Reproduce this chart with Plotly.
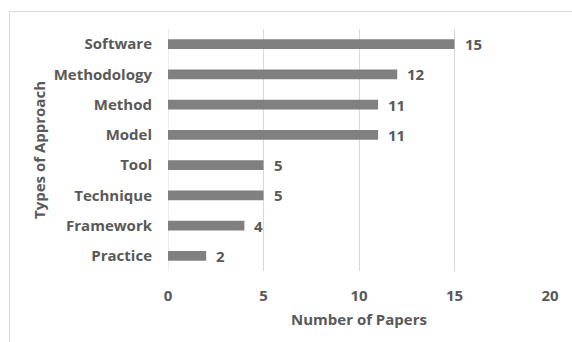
import plotly.graph_objects as go

categories = ["Software", "Methodology", "Method", "Model", "Tool", "Technique", "Framework", "Practice"]
values = [15, 12, 11, 11, 5, 5, 4, 2]
x_ticks = [0, 5, 10, 15, 20]

W, H = 572, 342
L, R, T, B = 168, 22, 29, 71
pw, ph = W - L - R, H - T - B

font_color = "#595959"
ff = "Open Sans"
fs = 15

fig = go.Figure()
fig.add_trace(go.Bar(
    y=categories, x=values, orientation="h",
    marker=dict(color="#808080", line=dict(width=0)),
    hoverinfo="skip",
))

for c, v in zip(categories, values):
    fig.add_annotation(x=v, y=c, text=str(v), showarrow=False, xanchor="left",
                       xshift=8, yshift=0,
                       font=dict(family=ff, size=fs, color=font_color, weight="bold"))

def px_x(p):
    return (p - L) / pw

def px_y(p):
    return (H - B - p) / ph

# chart border: only top and left edges visible within the window
fig.add_shape(type="line", xref="paper", yref="paper",
              x0=px_x(9.5), x1=px_x(572), y0=px_y(11.5), y1=px_y(11.5),
              line=dict(color="#d9d9d9", width=1), layer="below")
fig.add_shape(type="line", xref="paper", yref="paper",
              x0=px_x(9.5), x1=px_x(9.5), y0=px_y(11.5), y1=px_y(345),
              line=dict(color="#d9d9d9", width=1), layer="below")

fig.update_layout(
    width=W, height=H,
    margin=dict(l=L, r=R, t=T, b=B, pad=0),
    paper_bgcolor="white", plot_bgcolor="white",
    bargap=0.67,
    showlegend=False,
    font=dict(family=ff, color=font_color),
    xaxis=dict(
        range=[0, 20], tickvals=x_ticks, ticktext=[str(t) for t in x_ticks],
        showgrid=True, gridcolor="#d9d9d9", gridwidth=1,
        zeroline=False, showline=False, ticks="",
        ticklabelstandoff=14,
        tickfont=dict(family=ff, size=fs, color=font_color, weight="bold"),
        title=dict(text="Number of Papers", standoff=10,
                   font=dict(family=ff, size=fs, color=font_color, weight="bold")),
        fixedrange=True,
    ),
    yaxis=dict(
        categoryorder="array", categoryarray=categories[::-1],
        showgrid=False, zeroline=False, showline=False, ticks="",
        ticklabelstandoff=15,
        tickfont=dict(family=ff, size=fs, color=font_color, weight="bold"),
        title=dict(text="Types of Approach", standoff=4,
                   font=dict(family=ff, size=fs, color=font_color, weight="bold")),
        fixedrange=True,
    ),
)
fig.add_shape(type="line", xref="x", yref="paper", x0=0, x1=0, y0=0, y1=1,
              line=dict(color="#d9d9d9", width=1), layer="below")

fig.write_html("out.html", config={"displayModeBar": False})
